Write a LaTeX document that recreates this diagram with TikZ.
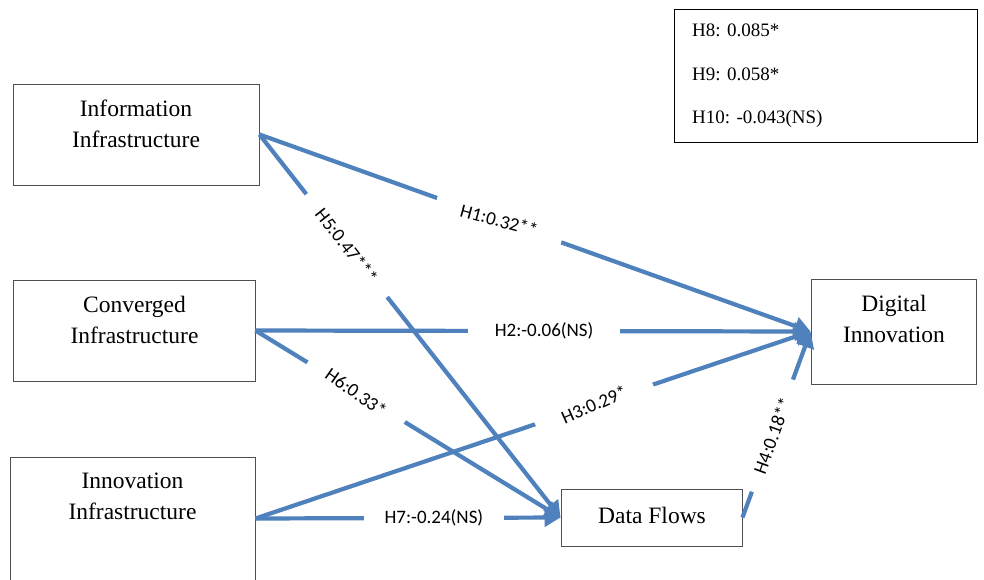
\documentclass[tikz,border=0pt]{standalone}
\usepackage{fontspec}
\setmainfont{Liberation Serif}
\newfontfamily\labfont{Carlito}
\usetikzlibrary{arrows.meta}
\definecolor{arrblue}{RGB}{79,129,189}
\definecolor{boxgray}{RGB}{80,80,80}
\begin{document}
\begin{tikzpicture}[x=1pt,y=-1pt,
  box/.style={draw=boxgray, line width=0.9pt, inner sep=0pt},
  boxtext/.style={font=\fontsize{23.5}{31}\selectfont, align=center, inner sep=0pt},
  leg/.style={font=\fontsize{19}{23}\selectfont, anchor=west, inner sep=0pt},
  conn/.style={draw=arrblue, line width=4.2pt, -{Triangle[length=16pt,width=18pt]}},
  lab/.style={font=\labfont\fontsize{19}{23}\selectfont, fill=white, inner ysep=3pt, text=black}]
\clip (0,0) rectangle (984,579);
\fill[white] (0,0) rectangle (984,579);
% boxes
\node[box, minimum width=246pt, minimum height=101pt] (info) at (136,134.5) {};
\node[boxtext] (infot) at (136,123.5) {Information\\Infrastructure};
\node[box, minimum width=242pt, minimum height=101pt] (conv) at (134,330.5) {};
\node[boxtext] (convt) at (134.5,320) {Converged\\Infrastructure};
\node[box, minimum width=245pt, minimum height=138pt] (innov) at (132.5,526) {};
\node[boxtext] (innovt) at (132.5,496.5) {Innovation\\Infrastructure};
\node[box, minimum width=165pt, minimum height=105pt] (dig) at (893.5,331.5) {};
\node[boxtext] (digt) at (894,319) {Digital\\Innovation};
\node[box, minimum width=181pt, minimum height=57pt] (df) at (651.5,517.5) {};
\node[boxtext] (dft) at (652,515) {Data Flows};
\coordinate (innovout) at ([yshift=7.5pt]innov.east);
% legend
\node[box, draw=black, line width=1pt, minimum width=303pt, minimum height=133pt] (legend) at (825.5,75.5) {};
\node[leg] (h8) at (692,30) {H8: 0.085*};
\node[leg] (h9) at (692,74) {H9: 0.058*};
\node[leg] (h10) at (692,119) {H10: -0.043(NS)};
% connectors
\draw[conn] (info.east) -- node[lab, pos=0.435, rotate=-15, inner xsep=26pt] (l1) {H1:0.32**} (dig.west);
\draw[conn] (info.east) -- node[lab, pos=0.29, rotate=-52, inner xsep=21pt] (l5) {H5:0.47***} (df.west);
\draw[conn] (conv.east) -- node[lab, pos=0.52, inner xsep=27pt] (l2) {H2:-0.06(NS)} (dig.west);
\draw[conn] (conv.east) -- node[lab, pos=0.33, rotate=-35, inner xsep=22pt] (l6) {H6:0.33*} (df.west);
\draw[conn] (innovout) -- node[lab, pos=0.61, rotate=24, inner xsep=27pt] (l3) {H3:0.29*} (dig.west);
\draw[conn] (innovout) -- node[lab, pos=0.585, inner xsep=21pt] (l7) {H7:-0.24(NS)} (df.west);
\draw[conn] (df.east) -- node[lab, pos=0.44, rotate=70, inner xsep=20pt] (l4) {H4:0.18**} (dig.west);
\end{tikzpicture}
\end{document}
